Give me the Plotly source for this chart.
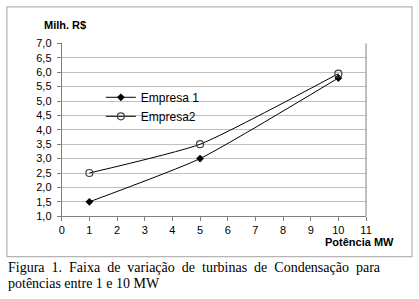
import plotly.graph_objects as go

x_vals = [1, 5, 10]
empresa1 = [1.5, 3.0, 5.8]
empresa2 = [2.5, 3.5, 5.95]
series_names = ["Empresa 1", "Empresa2"]
y_title = "Milh. R$"
x_title = "Potência MW"
caption_line1 = "Figura 1. Faixa de variação de turbinas de Condensação para"
caption_line2 = "potências entre 1 e 10 MW"

W, H = 419, 299
def px(xp):
    return xp / W
def py(yp):
    return 1 - yp / H

fig = go.Figure()
fig.add_trace(go.Scatter(
    x=x_vals, y=empresa1, name=series_names[0], mode="lines+markers",
    line=dict(color="black", width=1, shape="spline", smoothing=0.5),
    marker=dict(symbol="diamond", size=6, color="black"),
))
fig.add_trace(go.Scatter(
    x=x_vals, y=empresa2, name=series_names[1], mode="lines+markers",
    line=dict(color="black", width=1, shape="spline", smoothing=0.5),
    marker=dict(symbol="circle-open", size=7, color="#404040", line=dict(width=1.2)),
))

cap_font = dict(family="Liberation Serif, Times New Roman", size=14, color="black")
# justified look: one extra non-breaking space between words
caption_line1_justified = " \u00a0".join(caption_line1.split(" "))

axis_font = dict(family="Liberation Sans, Arial", size=11, color="black")
fig.update_layout(
    width=W, height=H,
    margin=dict(l=0, r=0, t=0, b=0),
    paper_bgcolor="white", plot_bgcolor="white",
    separators=",.",
    showlegend=True,
    legend=dict(x=px(100), y=py(80), xanchor="left", yanchor="top",
                bgcolor="rgba(0,0,0,0)", font=dict(family="Liberation Sans, Arial", size=12, color="black"),
                itemwidth=30, tracegroupgap=0),
    xaxis=dict(domain=[px(60), px(371)], range=[0, 11], dtick=1, tick0=0,
               showgrid=False, zeroline=False, showline=True, linecolor="#808080", linewidth=1,
               ticks="outside", ticklen=4, tickcolor="#808080", tickfont=axis_font,
               mirror=False, fixedrange=True),
    yaxis=dict(domain=[py(219), py(39)], range=[1, 7], dtick=0.5, tick0=1, tickformat=".1f",
               showgrid=True, gridcolor="#c0c0c0", gridwidth=1, zeroline=False,
               showline=True, linecolor="#808080", linewidth=1,
               ticks="outside", ticklen=4, tickcolor="#808080", tickfont=axis_font,
               ticklabelstandoff=3, fixedrange=True),
    shapes=[
        dict(type="rect", xref="paper", yref="paper", x0=px(4), x1=px(418), y0=py(261), y1=py(1),
             line=dict(color="#b4b4b4", width=1.2), layer="below"),
        dict(type="line", xref="paper", yref="paper", x0=px(371), x1=px(371), y0=py(219), y1=py(39),
             line=dict(color="#808080", width=1)),
    ],
    annotations=[
        dict(text="<b>" + y_title + "</b>", xref="paper", yref="paper", x=px(40), y=py(20),
             xanchor="left", yanchor="middle", showarrow=False,
             font=dict(family="Liberation Sans, Arial", size=11, color="black")),
        dict(text="<b>" + x_title + "</b>", xref="paper", yref="paper", x=px(402), y=py(246),
             xanchor="right", yanchor="middle", showarrow=False,
             font=dict(family="Liberation Sans, Arial", size=11, color="black")),
        dict(text=caption_line1_justified, xref="paper", yref="paper", x=px(3), y=py(272),
             xanchor="left", yanchor="middle", showarrow=False, font=cap_font),
        dict(text=caption_line2, xref="paper", yref="paper", x=px(3), y=py(289),
             xanchor="left", yanchor="middle", showarrow=False, font=cap_font),
    ],
)

fig.write_html(
    "out.html",
    config={"displayModeBar": False, "staticPlot": True},
    post_script="document.body.style.margin='0';document.body.style.overflow='hidden';document.documentElement.style.overflow='hidden';",
)
